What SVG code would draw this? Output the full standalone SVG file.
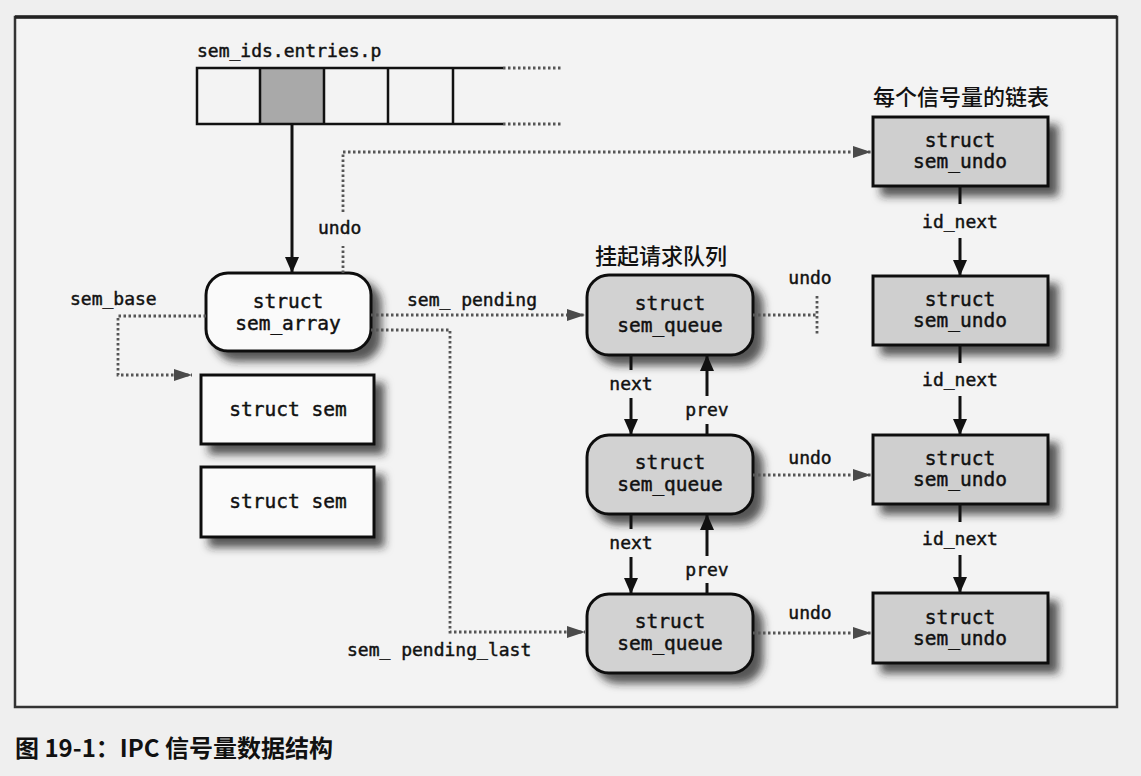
<svg xmlns="http://www.w3.org/2000/svg" width="1141" height="776" viewBox="0 0 1141 776">
<style>
.lbl{font-family:"DejaVu Sans Mono","Liberation Mono",monospace;font-size:18px;fill:#111;stroke:#111;stroke-width:0.45}
.bt{font-family:"DejaVu Sans Mono","Liberation Mono",monospace;font-size:19.5px;fill:#111;stroke:#111;stroke-width:0.45;text-anchor:middle}
.cjk{font-family:"Noto Sans CJK SC",sans-serif;font-size:22px;font-weight:500;fill:#111}
.cap{font-family:"Noto Sans CJK SC",sans-serif;font-size:24px;font-weight:bold;fill:#111}
.box{stroke:#111;stroke-width:3}
.solid{stroke:#111;stroke-width:3;fill:none}
.dot{stroke:#555;stroke-width:2.8;stroke-dasharray:2.5 2.5;fill:none}
</style>
<defs>
<filter id="sh" x="-20%" y="-20%" width="150%" height="160%">
<feDropShadow dx="9" dy="9" stdDeviation="4" flood-color="#222" flood-opacity="0.75"/>
</filter>
<marker id="ah" markerUnits="userSpaceOnUse" markerWidth="16" markerHeight="16" refX="16" refY="8" orient="auto">
<path d="M0,1 L16,8 L0,15 z" fill="#111"/>
</marker>
<marker id="ag" markerUnits="userSpaceOnUse" markerWidth="18" markerHeight="14" refX="18" refY="7" orient="auto">
<path d="M0,1 L18,7 L0,13 z" fill="#4a4a4a"/>
</marker>
</defs>
<rect x="0" y="0" width="1141" height="776" fill="#efefef"/>
<rect x="15" y="17" width="1102" height="690" fill="#f3f3f3" stroke="#333" stroke-width="2.5"/>
<line x1="15" y1="17" x2="1117" y2="17" stroke="#222" stroke-width="3.5"/>

<g id="array">
<text class="lbl" x="197" y="57">sem_ids.entries.p</text>
<rect x="260" y="68" width="64" height="56" fill="#a9a9a9"/>
<path d="M503,68 H197 V124 H503 M260,68 V124 M324,68 V124 M388,68 V124 M453,68 V124" stroke="#111" stroke-width="2.5" fill="none"/>
<path d="M503,68 H563 M503,124 H563" class="dot"/>
</g>

<g id="sem_array">
<rect x="206" y="273" width="165" height="78" rx="22" fill="#fafafa" class="box" filter="url(#sh)"/>
<text class="bt" x="288" y="308">struct</text>
<text class="bt" x="288" y="330">sem_array</text>
</g>

<g id="sem1">
<rect x="201" y="375" width="173" height="69" fill="#fafafa" class="box" filter="url(#sh)"/>
<text class="bt" x="288" y="416">struct sem</text>
</g>
<g id="sem2">
<rect x="201" y="467" width="173" height="70" fill="#fafafa" class="box" filter="url(#sh)"/>
<text class="bt" x="288" y="508">struct sem</text>
</g>

<text class="cjk" x="595" y="264">挂起请求队列</text>
<g id="queue1">
<rect x="587" y="275" width="166" height="80" rx="22" fill="#d2d2d2" class="box" filter="url(#sh)"/>
<text class="bt" x="670" y="310">struct</text>
<text class="bt" x="670" y="332">sem_queue</text>
</g>
<g id="queue2">
<rect x="587" y="435" width="166" height="79" rx="22" fill="#d2d2d2" class="box" filter="url(#sh)"/>
<text class="bt" x="670" y="469">struct</text>
<text class="bt" x="670" y="491">sem_queue</text>
</g>
<g id="queue3">
<rect x="587" y="594" width="166" height="79" rx="22" fill="#d2d2d2" class="box" filter="url(#sh)"/>
<text class="bt" x="670" y="628">struct</text>
<text class="bt" x="670" y="650">sem_queue</text>
</g>

<text class="cjk" x="873" y="105">每个信号量的链表</text>
<g id="undo1">
<rect x="873" y="117" width="175" height="69" fill="#cfcfcf" class="box" filter="url(#sh)"/>
<text class="bt" x="960" y="147">struct</text>
<text class="bt" x="960" y="168">sem_undo</text>
</g>
<g id="undo2">
<rect x="873" y="276" width="175" height="69" fill="#cfcfcf" class="box" filter="url(#sh)"/>
<text class="bt" x="960" y="306">struct</text>
<text class="bt" x="960" y="327">sem_undo</text>
</g>
<g id="undo3">
<rect x="873" y="435" width="175" height="69" fill="#cfcfcf" class="box" filter="url(#sh)"/>
<text class="bt" x="960" y="465">struct</text>
<text class="bt" x="960" y="486">sem_undo</text>
</g>
<g id="undo4">
<rect x="873" y="593" width="175" height="70" fill="#cfcfcf" class="box" filter="url(#sh)"/>
<text class="bt" x="960" y="624">struct</text>
<text class="bt" x="960" y="645">sem_undo</text>
</g>

<g id="connectors">
<line x1="292" y1="124" x2="292" y2="273" class="solid" marker-end="url(#ah)"/>
<path d="M343,212 V152 H871" class="dot" marker-end="url(#ag)"/>
<path d="M343,273 V246" class="dot"/>
<text class="lbl" x="318" y="234">undo</text>

<path d="M206,316 H118 V375 H192" class="dot" marker-end="url(#ag)"/>
<text class="lbl" x="70" y="305">sem_base</text>
<path d="M371,315 H585" class="dot" marker-end="url(#ag)"/>
<text class="lbl" x="407" y="306">sem_ pending</text>
<path d="M371,330 H450 V632 H585" class="dot" marker-end="url(#ag)"/>
<text class="lbl" x="347" y="656">sem_ pending_last</text>

<line x1="631" y1="355" x2="631" y2="370" class="solid"/>
<line x1="631" y1="398" x2="631" y2="435" class="solid" marker-end="url(#ah)"/>
<text class="lbl" x="631" y="390" text-anchor="middle">next</text>
<line x1="707" y1="435" x2="707" y2="424" class="solid"/>
<line x1="707" y1="396" x2="707" y2="355" class="solid" marker-end="url(#ah)"/>
<text class="lbl" x="707" y="416" text-anchor="middle">prev</text>

<line x1="631" y1="514" x2="631" y2="529" class="solid"/>
<line x1="631" y1="557" x2="631" y2="594" class="solid" marker-end="url(#ah)"/>
<text class="lbl" x="631" y="549" text-anchor="middle">next</text>
<line x1="707" y1="594" x2="707" y2="583" class="solid"/>
<line x1="707" y1="556" x2="707" y2="514" class="solid" marker-end="url(#ah)"/>
<text class="lbl" x="707" y="576" text-anchor="middle">prev</text>

<path d="M753,315 H817 M817,296 V335" class="dot"/>
<text class="lbl" x="810" y="284" text-anchor="middle">undo</text>
<path d="M753,475 H871" class="dot" marker-end="url(#ag)"/>
<text class="lbl" x="810" y="464" text-anchor="middle">undo</text>
<path d="M753,633 H871" class="dot" marker-end="url(#ag)"/>
<text class="lbl" x="810" y="619" text-anchor="middle">undo</text>

<line x1="960" y1="186" x2="960" y2="204" class="solid"/>
<line x1="960" y1="238" x2="960" y2="276" class="solid" marker-end="url(#ah)"/>
<text class="lbl" x="960" y="228" text-anchor="middle">id_next</text>
<line x1="960" y1="345" x2="960" y2="363" class="solid"/>
<line x1="960" y1="396" x2="960" y2="435" class="solid" marker-end="url(#ah)"/>
<text class="lbl" x="960" y="386" text-anchor="middle">id_next</text>
<line x1="960" y1="504" x2="960" y2="522" class="solid"/>
<line x1="960" y1="555" x2="960" y2="593" class="solid" marker-end="url(#ah)"/>
<text class="lbl" x="960" y="545" text-anchor="middle">id_next</text>
</g>

<text class="cap" x="15" y="757">图 19-1：IPC 信号量数据结构</text>
</svg>
